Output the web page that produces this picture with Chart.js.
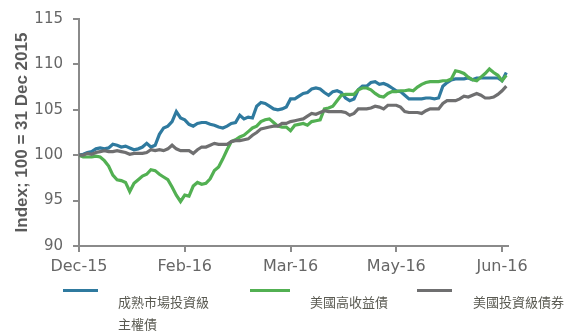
<!DOCTYPE html>
<html>
<head>
<meta charset="utf-8">
<script src="https://cdn.jsdelivr.net/npm/chart.js@4"></script>
<style>
  html, body { margin:0; padding:0; background:#fff; }
  #wrap { position:relative; width:579px; height:331px; }
  #legend { position:absolute; left:0; top:0; width:579px; height:331px; pointer-events:none;
            font-family:"Noto Sans CJK TC","Noto Sans CJK SC",sans-serif; font-size:13px; color:#5a5a52; }
  .leg-line { position:absolute; height:3px; }
  .leg-txt  { position:absolute; line-height:22px; }
</style>
</head>
<body>
<div id="wrap">
  <canvas id="chart" width="579" height="331"></canvas>
  <div id="legend"></div>
</div>
<script>
// ─── DATA ───
const TICK_POS    = [0, 25, 50, 75, 100];
const TICK_LABELS = ['Dec-15', 'Feb-16', 'Mar-16', 'May-16', 'Jun-16'];
const SERIES_NAMES = ['成熟市場投資級\n主權債', '美國高收益債', '美國投資級債券'];
const SERIES_COLORS = ['#2f7a9f', '#52b052', '#6f6f70'];

const dmSovereign = [
  100, 100.1, 100.3, 100.4, 100.7, 100.8, 100.7, 100.8, 101.2, 101.1,
  100.9, 101, 100.8, 100.6, 100.7, 100.9, 101.3, 100.9, 101.1, 102.3,
  103, 103.2, 103.7, 104.8, 104.1, 103.9, 103.4, 103.2, 103.5, 103.6,
  103.6, 103.4, 103.3, 103.1, 103, 103.2, 103.5, 103.6, 104.4, 104,
  104.2, 104.1, 105.4, 105.8, 105.7, 105.4, 105.1, 105, 105.1, 105.3,
  106.2, 106.2, 106.5, 106.8, 106.9, 107.3, 107.4, 107.3, 106.9, 106.6,
  107, 107.1, 106.9, 106.3, 106, 106.2, 107.2, 107.6, 107.6, 108,
  108.1, 107.8, 107.9, 107.7, 107.4, 107.1, 107, 106.6, 106.2, 106.2,
  106.2, 106.2, 106.3, 106.3, 106.2, 106.3, 107.6, 108, 108.3, 108.4,
  108.4, 108.4, 108.5, 108.3, 108.5, 108.5, 108.5, 108.5, 108.5, 108.5,
  108.2, 109.1
];
const usHighYield = [
  100, 99.8, 99.8, 99.8, 99.9, 99.8, 99.4, 98.8, 97.8, 97.3,
  97.2, 97, 96, 96.9, 97.3, 97.7, 97.9, 98.4, 98.3, 97.9,
  97.6, 97.3, 96.5, 95.6, 94.9, 95.6, 95.5, 96.6, 97, 96.8,
  96.9, 97.4, 98.3, 98.7, 99.6, 100.6, 101.5, 101.7, 102, 102.2,
  102.6, 103, 103.2, 103.7, 103.9, 104, 103.6, 103.2, 103.1, 103.1,
  102.7, 103.3, 103.4, 103.5, 103.3, 103.7, 103.8, 103.9, 105.1, 105.2,
  105.4, 106, 106.6, 106.7, 106.7, 106.7, 107.2, 107.4, 107.4, 107.2,
  106.8, 106.5, 106.4, 106.8, 107, 107, 107.1, 107.1, 107.2, 107.1,
  107.5, 107.8, 108, 108.1, 108.1, 108.1, 108.2, 108.2, 108.4, 109.3,
  109.2, 109, 108.6, 108.3, 108.2, 108.6, 109, 109.5, 109.1, 108.8,
  108.2, 108.8
];
const usInvGrade = [
  100, 100, 100.2, 100.1, 100.3, 100.4, 100.5, 100.4, 100.4, 100.5,
  100.4, 100.3, 100.1, 100.2, 100.2, 100.2, 100.3, 100.6, 100.5, 100.6,
  100.5, 100.7, 101.1, 100.7, 100.5, 100.5, 100.5, 100.2, 100.6, 100.9,
  100.9, 101.1, 101.3, 101.2, 101.2, 101.2, 101.5, 101.6, 101.6, 101.7,
  101.8, 102.2, 102.5, 102.9, 103, 103.1, 103.2, 103.2, 103.5, 103.5,
  103.7, 103.8, 103.9, 104, 104.3, 104.6, 104.5, 104.7, 104.9, 104.8,
  104.8, 104.8, 104.8, 104.7, 104.4, 104.6, 105.1, 105.1, 105.1, 105.2,
  105.4, 105.3, 105.1, 105.5, 105.5, 105.5, 105.3, 104.8, 104.7, 104.7,
  104.7, 104.6, 104.9, 105.1, 105.1, 105.1, 105.7, 106, 106, 106,
  106.2, 106.5, 106.4, 106.6, 106.8, 106.6, 106.3, 106.3, 106.4, 106.7,
  107.1, 107.6
];

const SERIES = [dmSovereign, usHighYield, usInvGrade];
const AXIS_GREY = '#8a8a8a';
const TEXT_GREY = '#666666';
const TICK_FONT = '"DejaVu Sans", sans-serif';
const TITLE_FONT = '"Liberation Sans", Arial, sans-serif';

// ─── CHART ───
new Chart(document.getElementById('chart'), {
  type: 'line',
  data: {
    datasets: SERIES.map((vals, s) => ({
      label: SERIES_NAMES[s],
      data: vals.map((v, i) => ({ x: i, y: v })),
      borderColor: SERIES_COLORS[s],
      borderWidth: 3.2,
      pointRadius: 0,
      tension: 0,
      fill: false,
    })).reverse()
  },
  options: {
    responsive: false,
    animation: false,
    layout: { padding: { left: 12, right: 71, top: 14, bottom: 50 } },
    plugins: { legend: { display: false }, tooltip: { enabled: false } },
    scales: {
      x: {
        type: 'linear', min: 0, max: 101.4,
        afterBuildTicks: ax => { ax.ticks = TICK_POS.map(v => ({ value: v })); },
        afterFit: ax => { ax.height = 35; },
        grid: { drawOnChartArea: false, drawTicks: true, tickLength: 6, color: AXIS_GREY, lineWidth: 2 },
        border: { color: AXIS_GREY, width: 2 },
        ticks: {
          maxRotation: 0, padding: 5, color: TEXT_GREY,
          font: { family: TICK_FONT, size: 16 },
          callback: v => TICK_LABELS[TICK_POS.indexOf(v)] ?? ''
        }
      },
      y: {
        min: 90, max: 115,
        afterFit: ax => { ax.width = 67; },
        grid: { drawOnChartArea: false, drawTicks: true, tickLength: 6, color: AXIS_GREY, lineWidth: 2 },
        border: { color: AXIS_GREY, width: 2 },
        ticks: { stepSize: 5, padding: 10, color: TEXT_GREY, font: { family: TICK_FONT, size: 15 } },
        title: {
          display: true, text: 'Index; 100 = 31 Dec 2015', color: '#5a5a5a',
          font: { family: TITLE_FONT, size: 17, weight: 'bold' }, padding: 0
        }
      }
    }
  }
});

// ─── LEGEND ───
const LEG_LINES = [[63, 35], [250, 40], [417, 35]];
const LEG_TEXT  = [118, 310, 473];
document.getElementById('legend').innerHTML = SERIES_NAMES.map((name, s) => `
  <div class="leg-line" style="left:${LEG_LINES[s][0]}px;top:289px;width:${LEG_LINES[s][1]}px;background:${SERIES_COLORS[s]}"></div>
  <div class="leg-txt" style="left:${LEG_TEXT[s]}px;top:291px">${name.replace('\n', '<br>')}</div>`).join('');
</script>
</body>
</html>
